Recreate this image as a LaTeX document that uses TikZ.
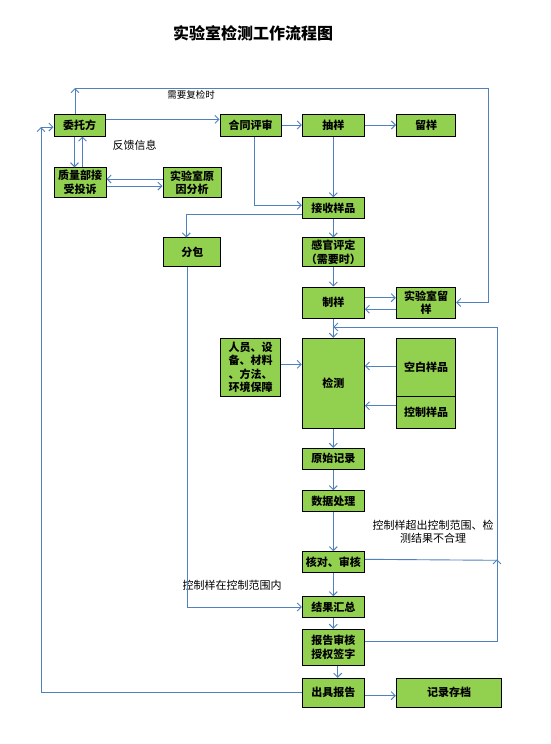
\documentclass[tikz,border=0pt]{standalone}
\usepackage{fontspec}
\setmainfont{Noto Sans CJK SC}
\usepackage{tikz}
\usepackage{xcolor}
\usetikzlibrary{arrows.meta, calc, positioning}

\definecolor{boxgreen}{HTML}{92D050}
\definecolor{linkblue}{HTML}{4F81BD}

\begin{document}
\begin{tikzpicture}[x=1pt, y=-1pt,
                    box/.style={draw=black, line width=1pt, fill=boxgreen, inner sep=0pt, align=center,
                                font=\bfseries\fontsize{11}{13.5}\selectfont},
                    flow/.style={draw=linkblue, line width=0.9pt, -{Straight Barb[length=4pt, width=8pt]}},
                    link/.style={draw=linkblue, line width=0.9pt},
                    note/.style={font=\fontsize{11}{12.6}\selectfont, align=center}]
                            \useasboundingbox (0, 0) rectangle (550, 744);

                            \node[font=\bfseries\fontsize{16}{18}\selectfont] (title) at (253, 33) {实验室检测工作流程图};

                            \node[box, minimum width=51pt, minimum height=22pt] (wt) at (79.5, 125) {委托方};
                            \node[box, minimum width=61pt, minimum height=22pt] (ht) at (250.5, 125) {合同评审};
                            \node[box, minimum width=62pt, minimum height=22pt] (cy) at (333.3, 125) {抽样};
                            \node[box, minimum width=59pt, minimum height=22pt] (ly) at (426, 125) {留样};

                            \node[box, minimum width=52pt, minimum height=29.5pt] (zl) at (80, 182.5) {质量部接\\受投诉};
                            \node[box, minimum width=58pt, minimum height=29.5pt] (yy) at (192, 182.5) {实验室原\\因分析};

                            \node[box, minimum width=62pt, minimum height=20.5pt] (js) at (333.3, 208) {接收样品};
                            \node[box, minimum width=56.7pt, minimum height=28.7pt] (fb) at (192.3, 252.3) {分包};
                            \node[box, minimum width=62pt, minimum height=28.7pt] (gg) at (333.3, 252.3) {感官评定\\（需要时）};
                            \node[box, minimum width=62pt, minimum height=31pt] (zy) at (333.3, 302.5) {制样};
                            \node[box, minimum width=59.4pt, minimum height=31pt] (sl) at (426, 302.5) {实验室留\\样};

                            \node[box, minimum width=60.4pt, minimum height=58.4pt] (ry) at (250.5, 367.5) {人员、设\\备、材料\\、方法、\\环境保障};
                            \node[box, minimum width=62pt, minimum height=90.4pt] (jc) at (333.3, 383.5) {检测};
                            \node[box, minimum width=59.4pt, minimum height=58.4pt] (kb) at (426, 367.5) {空白样品};
                            \node[box, minimum width=59.4pt, minimum height=32pt] (kz) at (426, 412.7) {控制样品};

                            \node[box, minimum width=62pt, minimum height=21pt] (ys) at (333.3, 458.8) {原始记录};
                            \node[box, minimum width=62pt, minimum height=20.6pt] (sj) at (333.3, 501) {数据处理};
                            \node[box, minimum width=62pt, minimum height=21pt] (hd) at (333.3, 562.2) {核对、审核};
                            \node[box, minimum width=62pt, minimum height=20.6pt] (hz) at (333.3, 607) {结果汇总};
                            \node[box, minimum width=62pt, minimum height=36pt] (bg) at (333.3, 647.3) {报告审核\\授权签字};
                            \node[box, minimum width=62pt, minimum height=29pt] (cj) at (333.3, 692.8) {出具报告};
                            \node[box, minimum width=105.4pt, minimum height=29pt] (jd) at (449, 692.8) {记录存档};

                            \node[note, font=\fontsize{9.5}{11}\selectfont] at (191, 94.5) {需要复检时};
                            \node[note] at (134.5, 145) {反馈信息};
                            \node[note] at (232, 585) {控制样在控制范围内};
                            \node[note] at (433, 532) {控制样超出控制范围、检\\测结果不合理};

                            \coordinate (tl) at (75, 88);
                            \coordinate (tr) at (488, 88);
                            \coordinate (lb) at (41, 127);
                            \coordinate (rt) at (497, 327);
                            \coordinate (rm) at (497, 559.3);

                            \draw[flow] (wt.north -| tl) -- (tl);
                            \draw[flow] (tl) -- (tr) |- (sl.east);
                            \draw[flow] (cj.west) -| (lb);
                            \draw[flow] (lb) -- (wt.west |- lb);

                            \draw[flow] ([yshift=5.7pt]wt.east) -- ([yshift=5.7pt]wt.east -| ht.west);
                            \draw[flow] (ht) -- (cy);
                            \draw[flow] (cy) -- (ly);
                            \draw[flow] (cy) -- (js);
                            \draw[flow] ([xshift=3.5pt]ht.south) |- ([yshift=2.7pt]js.west);
                            \draw[flow] ([yshift=-6.3pt]js.west) -| ([xshift=-6pt]fb.north);

                            \draw[flow] ([xshift=-5pt]wt.south) -- ([xshift=-5pt]wt.south |- zl.north);
                            \draw[flow] ([xshift=3pt]wt.south |- zl.north) -- ([xshift=3pt]wt.south);
                            \draw[flow] ([yshift=3.5pt]yy.west) -- ([yshift=3.5pt]zl.east);
                            \draw[flow] ([yshift=-3.5pt]zl.east) -- ([yshift=-3.5pt]yy.west);

                            \draw[flow] (js) -- (gg);
                            \draw[flow] (gg) -- (zy);
                            \draw[flow] (zy) -- (jc);
                            \draw[flow] ([yshift=4.8pt]zy.east) -- ([yshift=4.8pt]sl.west);
                            \draw[flow] ([yshift=-6.8pt]sl.west) -- ([yshift=-6.8pt]zy.east);

                            \draw[flow] ([yshift=3.2pt]ry.east) -- ([yshift=3.2pt]ry.east -| jc.west);
                            \draw[flow] ([yshift=1.5pt]kb.west) -- ([yshift=1.5pt]kb.west -| jc.east);
                            \draw[flow] ([yshift=7pt]kz.west) -- ([yshift=7pt]kz.west -| jc.east);

                            \draw[flow] (jc) -- (ys);
                            \draw[flow] (ys) -- (sj);
                            \draw[flow] (sj) -- (hd);
                            \draw[flow] (hd) -- (hz);
                            \draw[flow] (hz) -- (bg);
                            \draw[flow] ([xshift=4.4pt]bg.south) -- ([xshift=4.4pt]cj.north);
                            \draw[flow] ([yshift=-2.9pt]cj.east) -- ([yshift=-2.9pt]cj.east -| jd.west);
                            \draw[flow] ([xshift=-5pt]fb.south) |- (hz.west);

                            \draw[flow] ([yshift=6.3pt]bg.east) -| (rt) -- (rt -| jc.north);
                            \draw[flow] ([yshift=2.9pt]hd.east) -- ([yshift=-1pt]rm) -- (rm);
                        \end{tikzpicture}
\end{document}
